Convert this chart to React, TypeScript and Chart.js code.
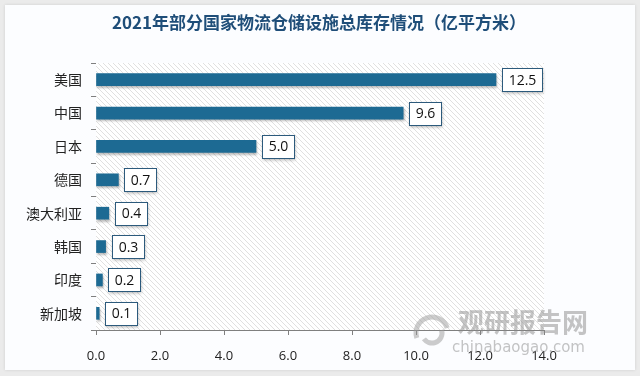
import React, { useEffect, useRef } from "react";
import { Chart, registerables } from "chart.js";

Chart.register(...registerables);

const TITLE = "2021年部分国家物流仓储设施总库存情况（亿平方米）";
const categories = ["美国", "中国", "日本", "德国", "澳大利亚", "韩国", "印度", "新加坡"];
const values = [12.5, 9.6, 5.0, 0.7, 0.4, 0.3, 0.2, 0.1];
const xTicks = [0, 2, 4, 6, 8, 10, 12, 14];

const BAR = "#1d6a93";

function makeHatch(ctx: CanvasRenderingContext2D) {
  const c = document.createElement("canvas");
  c.width = 5;
  c.height = 5;
  const p = c.getContext("2d")!;
  p.fillStyle = "#ffffff";
  p.fillRect(0, 0, 5, 5);
  p.strokeStyle = "#e0e0e0";
  p.lineWidth = 1;
  p.beginPath();
  p.moveTo(0, 0);
  p.lineTo(5, 5);
  p.moveTo(-3, 2);
  p.lineTo(3, 8);
  p.moveTo(2, -3);
  p.lineTo(8, 3);
  p.stroke();
  return ctx.createPattern(c, "repeat")!;
}

const decor = {
  id: "decor",
  beforeDraw(chart: any) {
    const { ctx, width, height } = chart;
    ctx.save();
    ctx.fillStyle = "#ebebeb";
    ctx.fillRect(0, 0, width, height);
    ctx.shadowColor = "rgba(0,0,0,0.12)";
    ctx.shadowBlur = 3;
    ctx.fillStyle = "#fcfdff";
    ctx.fillRect(5, 5, 630, 365);
    ctx.restore();
    ctx.save();
    ctx.fillStyle = "#1f4e79";
    ctx.font = "bold 17px 'Noto Sans CJK SC'";
    ctx.textAlign = "center";
    ctx.textBaseline = "middle";
    ctx.fillText(TITLE, 319, 23);
    ctx.restore();
  },
  beforeDatasetsDraw(chart: any) {
    const { ctx, chartArea: a } = chart;
    ctx.save();
    ctx.fillStyle = makeHatch(ctx);
    ctx.fillRect(a.left, a.top, a.right - a.left, a.bottom - a.top);
    ctx.restore();
  },
  beforeDatasetDraw(chart: any) {
    const ctx = chart.ctx;
    ctx.save();
    ctx.shadowColor = "rgba(0,0,0,0.25)";
    ctx.shadowOffsetX = 1;
    ctx.shadowOffsetY = 2;
    ctx.shadowBlur = 2;
  },
  afterDatasetDraw(chart: any) {
    chart.ctx.restore();
  },
  afterDatasetsDraw(chart: any) {
    const { ctx } = chart;
    const meta = chart.getDatasetMeta(0);
    ctx.save();
    ctx.font = "14px 'Open Sans'";
    meta.data.forEach((bar: any, i: number) => {
      const txt = values[i].toFixed(1);
      const tw = ctx.measureText(txt).width;
      const w = Math.round(tw + 12);
      const h = 23;
      const x = Math.round(bar.x + 6);
      const y = Math.round(bar.y - h / 2);
      ctx.save();
      ctx.shadowColor = "rgba(0,0,0,0.3)";
      ctx.shadowOffsetX = 1;
      ctx.shadowOffsetY = 2;
      ctx.shadowBlur = 3;
      ctx.fillStyle = "#ffffff";
      ctx.fillRect(x, y, w, h);
      ctx.restore();
      ctx.strokeStyle = "#2c5a7c";
      ctx.lineWidth = 1;
      ctx.strokeRect(x + 0.5, y + 0.5, w, h);
      ctx.fillStyle = "#111";
      ctx.textAlign = "center";
      ctx.textBaseline = "middle";
      ctx.fillText(txt, x + w / 2 + 0.5, bar.y + 1);
    });
    ctx.restore();
    // watermark
    ctx.save();
    ctx.globalAlpha = 0.5;
    ctx.strokeStyle = "#9a9a9a";
    ctx.lineWidth = 5;
    ctx.beginPath();
    ctx.arc(432, 333, 16, Math.PI * 0.9, Math.PI * 1.9);
    ctx.stroke();
    ctx.beginPath();
    ctx.arc(432, 333, 10, Math.PI * -0.1, Math.PI * 0.8);
    ctx.stroke();
    ctx.fillStyle = "#8a8a8a";
    ctx.font = "bold 26px 'Noto Sans CJK SC'";
    ctx.textAlign = "left";
    ctx.textBaseline = "middle";
    ctx.fillText("观研报告网", 458, 322);
    ctx.font = "15px 'DejaVu Sans'";
    ctx.fillText("chinabaogao.com", 452, 348);
    ctx.restore();
  },
};

export default function App() {
  const ref = useRef<HTMLCanvasElement>(null);
  useEffect(() => {
    document.body.style.margin = "0";
    const chart = new Chart(ref.current!, {
      type: "bar",
      data: {
        labels: categories,
        datasets: [
          {
            data: values,
            backgroundColor: BAR,
            barThickness: 12,
            borderWidth: 0,
          },
        ],
      },
      options: {
        indexAxis: "y",
        responsive: false,
        animation: false,
        layout: { padding: { left: 0, right: 96, top: 63, bottom: 0 } },
        plugins: { legend: { display: false }, tooltip: { enabled: false } },
        scales: {
          x: {
            min: 0,
            max: 14,
            afterBuildTicks: (s: any) => {
              s.ticks = xTicks.map((v) => ({ value: v }));
            },
            afterFit: (s: any) => {
              s.height = 46;
            },
            grid: {
              drawOnChartArea: false,
              drawTicks: true,
              tickLength: 5,
              color: "#7f7f7f",
            },
            border: { display: true, color: "#7f7f7f" },
            ticks: {
              color: "#222",
              font: { family: "'Open Sans'", size: 13 },
              padding: 13,
              callback: (v: any) => Number(v).toFixed(1),
            },
          },
          y: {
            afterFit: (s: any) => {
              s.width = 96;
            },
            grid: {
              drawOnChartArea: false,
              drawTicks: true,
              tickLength: 5,
              color: "#7f7f7f",
            },
            border: { display: true, color: "#7f7f7f" },
            ticks: {
              color: "#222",
              font: { family: "'Noto Sans CJK SC'", size: 14 },
              padding: 9,
            },
          },
        },
      },
      plugins: [decor],
    });
    return () => chart.destroy();
  }, []);
  return (
    <div style={{ position: "fixed", left: 0, top: 0, width: 640, height: 376 }}>
      <canvas ref={ref} width={640} height={376} />
    </div>
  );
}
